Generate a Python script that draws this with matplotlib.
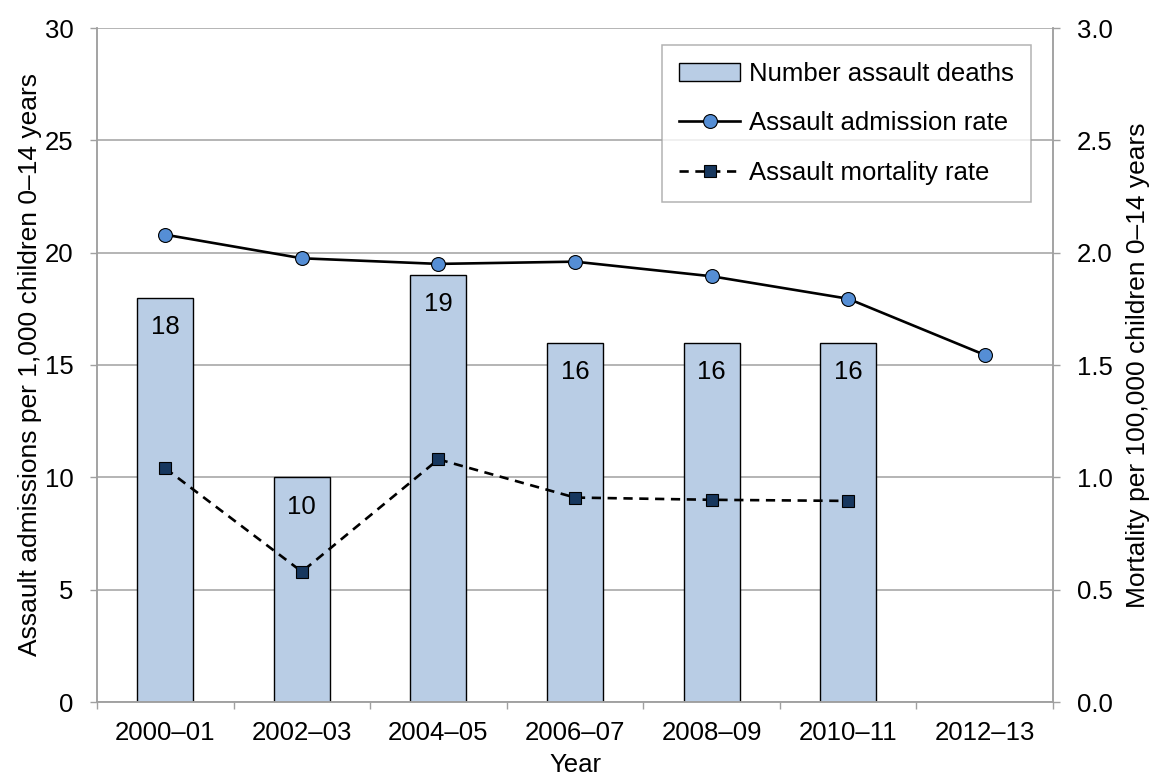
import numpy as np
import matplotlib
matplotlib.use('Agg')
import matplotlib.pyplot as plt
from matplotlib.ticker import FixedLocator

plt.rcParams['font.family'] = ['Liberation Sans', 'DejaVu Sans']

# Data
years = ['2000–01', '2002–03', '2004–05', '2006–07', '2008–09', '2010–11', '2012–13']
deaths = [18, 10, 19, 16, 16, 16]
admission_rate = [20.8, 19.75, 19.5, 19.6, 18.95, 17.95, 15.45]
mortality_rate = [1.04, 0.58, 1.08, 0.91, 0.90, 0.895]

GRAY = '#A0A0A0'
FS = 18.5

fig = plt.figure(figsize=(11.52, 7.78), dpi=100)
ax = fig.add_axes([97 / 1152, 76 / 778, 956 / 1152, 674 / 778])
ax2 = ax.twinx()

x = np.arange(len(years))

# Bars: number of assault deaths
bars = ax.bar(x[:len(deaths)], deaths, width=0.41, color='#B9CDE5',
              edgecolor='black', linewidth=1.0, zorder=2,
              label='Number assault deaths')
for bar, d in zip(bars, deaths):
    ax.annotate(f'{d}', (bar.get_x() + bar.get_width() / 2, d),
                xytext=(0, -21), textcoords='offset points',
                ha='center', va='center', fontsize=FS)

# Admission rate (left axis)
adm, = ax.plot(x, admission_rate, color='black', linewidth=1.9,
               marker='o', markersize=10, markerfacecolor='#558ED5',
               markeredgecolor='black', markeredgewidth=0.8, zorder=3,
               label='Assault admission rate')

# Mortality rate (right axis)
mort, = ax2.plot(x[:len(mortality_rate)], mortality_rate, color='black',
                 linewidth=1.9, linestyle=(0, (3.5, 2.5)),
                 marker='s', markersize=8.5, markerfacecolor='#17375E',
                 markeredgecolor='black', markeredgewidth=0.8, zorder=3,
                 label='Assault mortality rate')

ax.set_xlim(-0.5, len(years) - 0.5)
ax.set_ylim(0, 30)
ax2.set_ylim(0, 3.0)

ax.set_yticks(np.arange(0, 31, 5))
ax2.set_yticks(np.arange(0, 3.01, 0.5))
ax2.set_yticklabels([f'{v:.1f}' for v in np.arange(0, 3.01, 0.5)])

ax.set_xticks(x)
ax.set_xticklabels(years)
ax.xaxis.set_minor_locator(FixedLocator(np.arange(-0.5, len(years), 1.0)))

ax.tick_params(axis='x', which='major', length=0, pad=14, labelsize=FS)
ax.tick_params(axis='x', which='minor', length=5, width=1.0, color=GRAY,
               direction='out')
ax.tick_params(axis='y', length=5, width=1.0, color=GRAY, pad=12,
               labelsize=FS)
ax2.tick_params(axis='y', length=5, width=1.0, color=GRAY, pad=12,
                labelsize=FS)

ax.grid(axis='y', color=GRAY, linewidth=1.1, zorder=0)
ax.set_axisbelow(True)

for a in (ax, ax2):
    a.spines['top'].set_visible(False)
    for s in ('left', 'right', 'bottom'):
        a.spines[s].set_color(GRAY)
        a.spines[s].set_linewidth(1.1)

ax.set_xlabel('Year', fontsize=FS)
ax.xaxis.set_label_coords(0.5, -0.075)
ax.set_ylabel('Assault admissions per 1,000 children 0–14 years', fontsize=19)
ax.yaxis.set_label_coords(-0.058, 0.5)
ax2.set_ylabel('Mortality per 100,000 children 0–14 years', fontsize=19)
ax2.yaxis.set_label_coords(1.076, 0.5)

leg = ax2.legend(handles=[bars, adm, mort], loc='upper right',
                 bbox_to_anchor=(0.977, 0.975), borderaxespad=0,
                 fontsize=FS, frameon=True, fancybox=False,
                 handlelength=2.4, handletextpad=0.35, labelspacing=1.0,
                 borderpad=0.65, numpoints=1)
leg.get_frame().set_edgecolor(GRAY)
leg.get_frame().set_linewidth(1.1)

fig.savefig('out.png', dpi=100)
plt.close(fig)
